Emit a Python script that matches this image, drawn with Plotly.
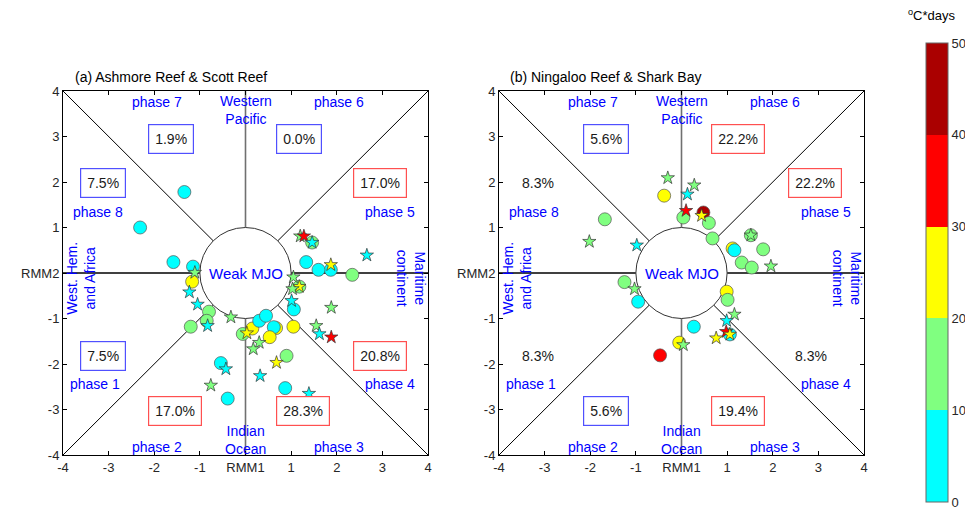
import numpy as np
import plotly.graph_objects as go

# ---------------- data ----------------
# heat-stress values (degC*days), read from the colour bins
CY, GR, YE, RE, DR = 5, 15, 25, 35, 45

# (a) Ashmore Reef (circles)
a_circ_x = [-1.34, -2.31, -1.58, -1.15, -1.17, -1.20, -0.80, -0.85, -0.06, 0.15, 0.30, 0.45,
            0.67, 0.62, 0.53, 1.05, 0.90, -0.54, -0.39, 0.87, 1.06, 1.18, 2.34, 1.46, 1.33, 1.87, 1.60]
a_circ_y = [1.78, 1.00, 0.24, 0.14, -0.19, -1.18, -0.85, -1.05, -1.34, -1.22, -1.05, -0.94,
            -1.21, -1.19, -1.41, -1.18, -1.82, -1.98, -2.76, -2.53, -0.80, -0.30, -0.04, 0.67, 0.24, 0.07, 0.07]
a_circ_v = [CY, CY, CY, CY, YE, GR, GR, GR, GR, YE, CY, CY,
            YE, CY, YE, YE, GR, CY, CY, CY, CY, GR, GR, GR, CY, CY, CY]
# (a) Scott Reef (stars)
a_star_x = [-1.11, -1.23, -1.05, -0.83, -0.32, 0.03, 0.30, 0.17, 0.68, -0.43, 0.32, -0.76, 1.39,
            1.01, 1.18, 1.03, 1.05, 1.88, 1.55, 1.62, 1.88, 1.20, 1.28, 1.46, 2.66, 1.87]
a_star_y = [0.01, -0.42, -0.69, -1.16, -0.97, -1.32, -1.53, -1.67, -1.97, -2.11, -2.26, -2.47, -2.65,
            -0.61, -0.30, -0.35, -0.09, -0.76, -1.16, -1.34, -1.41, 0.81, 0.81, 0.67, 0.39, 0.18]
a_star_v = [GR, CY, CY, CY, GR, YE, GR, GR, YE, CY, CY, GR, CY,
            CY, YE, GR, GR, GR, GR, CY, RE, GR, RE, CY, CY, YE]

# (b) Ningaloo Reef (circles)
b_circ_x = [-0.38, 0.48, 0.04, 0.60, 0.68, -1.68, 1.52, 1.12, 1.16, 1.79, 1.32, 1.54,
            -1.25, -0.95, 0.99, 1.01, 0.27, 1.06, -0.05, -0.47]
b_circ_y = [1.70, 1.33, 1.22, 1.10, 0.76, 1.18, 0.83, 0.54, 0.50, 0.52, 0.23, 0.12,
            -0.20, -0.63, -0.41, -0.59, -1.18, -1.35, -1.53, -1.81]
b_circ_v = [YE, DR, GR, GR, GR, GR, GR, YE, CY, GR, GR, GR,
            GR, CY, YE, GR, CY, CY, YE, RE]
# (b) Shark Bay (stars)
b_star_x = [-0.30, 0.28, 0.13, 0.10, 0.44, -2.02, -0.98, 1.52, 1.96, -1.03, 1.16, 0.99, 0.98, 1.06, 0.76, 0.04]
b_star_y = [2.09, 1.93, 1.73, 1.37, 1.26, 0.69, 0.61, 0.83, 0.15, -0.35, -0.91, -1.05, -1.29, -1.35, -1.43, -1.58]
b_star_v = [GR, GR, CY, RE, YE, GR, CY, GR, GR, GR, GR, CY, RE, YE, YE, GR]

# phase percentages, phases 1..8
a_pct = ["7.5%", "17.0%", "28.3%", "20.8%", "17.0%", "0.0%", "1.9%", "7.5%"]
a_box = ["b", "r", "r", "r", "r", "b", "b", "b"]
b_pct = ["8.3%", "5.6%", "19.4%", "8.3%", "22.2%", "22.2%", "5.6%", "8.3%"]
b_box = ["", "b", "r", "", "r", "r", "b", ""]

ticks = [-4, -3, -2, -1, 0, 1, 2, 3, 4]
xticktext = ["-4", "-3", "-2", "-1", "RMM1", "1", "2", "3", "4"]
yticktext = ["-4", "-3", "-2", "-1", "RMM2", "1", "2", "3", "4"]
cbar_ticks = [0, 10, 20, 30, 40, 50]

# ---------------- layout helpers (page has an 8px body margin) ----------------
OFF = 8
W, H = 973 - 2 * OFF, 517 - 2 * OFF


def px(x):  # page pixel -> paper fraction (x)
    return (x - OFF) / W


def py(y):  # page pixel -> paper fraction (y)
    return 1 - (y - OFF) / H


FONT = "Liberation Sans, Arial, sans-serif"
cs = [[0.0, "#00ffff"], [0.2, "#00ffff"], [0.2, "#80ff80"], [0.4, "#80ff80"],
      [0.4, "#ffff00"], [0.6, "#ffff00"], [0.6, "#ff0000"], [0.8, "#ff0000"],
      [0.8, "#aa0000"], [1.0, "#aa0000"]]

fig = go.Figure()


def add_pts(x, y, v, sym, size, xa, ya, showscale=False):
    marker = dict(symbol=sym, size=size, color=v, colorscale=cs, cmin=0, cmax=50,
                  line=dict(width=0.7, color="#555555" if sym == "circle" else "#333333"),
                  showscale=showscale)
    if showscale:
        marker["colorbar"] = dict(x=px(926), xanchor="left", xpad=0, ypad=0,
                                  y=py(502), yanchor="bottom", len=py(43) - py(502),
                                  lenmode="fraction",
                                  thickness=22, thicknessmode="pixels",
                                  tickvals=cbar_ticks, ticks="", outlinewidth=1,
                                  outlinecolor="#666666", ticklabeloverflow="allow",
                                  tickfont=dict(family=FONT, size=13, color="#262626"))
    fig.add_trace(go.Scatter(x=x, y=y, mode="markers", marker=marker, xaxis=xa, yaxis=ya,
                             showlegend=False, hoverinfo="skip"))


add_pts(a_circ_x, a_circ_y, a_circ_v, "circle", 13, "x", "y", showscale=True)
add_pts(a_star_x, a_star_y, a_star_v, "star", 10, "x", "y")
add_pts(b_circ_x, b_circ_y, b_circ_v, "circle", 13, "x2", "y2")
add_pts(b_star_x, b_star_y, b_star_v, "star", 10, "x2", "y2")

# ---------------- axes ----------------
ydom = [py(455), py(91)]
common = dict(range=[-4, 4], tickvals=ticks, ticks="inside", ticklen=4, tickcolor="black",
              showline=True, linecolor="black", linewidth=1, mirror="ticks",
              showgrid=False, zeroline=False, fixedrange=True,
              tickfont=dict(family=FONT, size=13, color="#262626"))
fig.update_layout(
    xaxis=dict(domain=[px(63), px(428)], anchor="y", ticktext=xticktext, **common),
    yaxis=dict(domain=ydom, anchor="x", ticktext=yticktext, **common),
    xaxis2=dict(domain=[px(499), px(864)], anchor="y2", ticktext=xticktext, **common),
    yaxis2=dict(domain=ydom, anchor="x2", ticktext=yticktext, **common),
)

# ---------------- phase-diagram frame ----------------
shapes = []
ann = []
for xr, yr in [("x", "y"), ("x2", "y2")]:
    for k in range(8):
        ang = np.deg2rad(45 * k)
        c, s = np.cos(ang), np.sin(ang)
        sc = 4 / max(abs(c), abs(s))
        vert = (k % 4 == 2)
        shapes.append(dict(type="line", xref=xr, yref=yr, x0=c, y0=s, x1=c*sc, y1=s*sc,
                           line=dict(color="#707070" if vert else "black",
                                     width=1.6 if k % 2 == 0 else 1), layer="below"))
    shapes.append(dict(type="circle", xref=xr, yref=yr, x0=-1, y0=-1, x1=1, y1=1,
                       fillcolor="white", line=dict(color="#333333", width=1), layer="below"))

    blue = dict(family=FONT, size=14, color="blue")
    labels = [("phase 7", -1.95, 3.76), ("phase 6", 2.05, 3.76), ("phase 8", -3.24, 1.35),
              ("phase 5", 3.17, 1.35), ("phase 1", -3.3, -2.44), ("phase 4", 3.17, -2.44),
              ("phase 2", -1.95, -3.83), ("phase 3", 2.05, -3.83)]
    for t, x, y in labels:
        ann.append(dict(text=t, x=x, y=y, xref=xr, yref=yr, showarrow=False, font=blue))
    ann.append(dict(text="Western<br>Pacific", x=0, y=3.58, xref=xr, yref=yr, showarrow=False,
                    font=blue))
    ann.append(dict(text="Indian<br>Ocean", x=0, y=-3.66, xref=xr, yref=yr, showarrow=False,
                    font=blue))
    ann.append(dict(text="West. Hem.<br>and Africa", x=-3.6, y=-0.12, xref=xr, yref=yr,
                    showarrow=False, textangle=-90, font=blue))
    ann.append(dict(text="Maritime<br>continent", x=3.62, y=-0.12, xref=xr, yref=yr,
                    showarrow=False, textangle=90, font=blue))
    ann.append(dict(text="Weak MJO", x=0, y=0, xref=xr, yref=yr, showarrow=False,
                    font=dict(family=FONT, size=15, color="blue")))

# percentage positions for phases 1..8
pct_pos_a = [(-3.13, -1.83), (-1.55, -3.03), (1.25, -3.03), (2.95, -1.83),
             (2.95, 1.98), (1.17, 2.95), (-1.63, 2.95), (-3.13, 1.98)]
pct_pos_b = [(-3.15, -1.83), (-1.66, -3.03), (1.23, -3.03), (2.84, -1.83),
             (2.93, 1.98), (1.23, 2.95), (-1.66, 2.95), (-3.15, 1.98)]
for pcts, boxes, pos, xr, yr in [(a_pct, a_box, pct_pos_a, "x", "y"),
                                 (b_pct, b_box, pct_pos_b, "x2", "y2")]:
    for t, b, (x, y) in zip(pcts, boxes, pos):
        d = dict(text=t, x=x, y=y, xref=xr, yref=yr, showarrow=False,
                 font=dict(family=FONT, size=14, color="#1a1a1a"))
        if b:
            d.update(bordercolor="#5050ff" if b == "b" else "#ff5050", borderwidth=1.2,
                     borderpad=6, bgcolor="white")
        ann.append(d)

ann.append(dict(text="(a) Ashmore Reef & Scott Reef", x=px(73), y=py(77), xref="paper",
                yref="paper", xanchor="left", yanchor="middle", showarrow=False,
                font=dict(family=FONT, size=14, color="black")))
ann.append(dict(text="(b) Ningaloo Reef & Shark Bay", x=px(508), y=py(77), xref="paper",
                yref="paper", xanchor="left", yanchor="middle", showarrow=False,
                font=dict(family=FONT, size=14, color="black")))
ann.append(dict(text="<sup>o</sup>C*days", x=px(931), y=py(15), xref="paper", yref="paper",
                xanchor="center", yanchor="middle", showarrow=False,
                font=dict(family=FONT, size=13, color="black")))

fig.update_layout(width=W, height=H,
                  margin=dict(l=0, r=0, t=0, b=0, pad=0, autoexpand=False),
                  paper_bgcolor="white", plot_bgcolor="white",
                  shapes=shapes, annotations=ann, font=dict(family=FONT))

fig.write_html("out.html")
